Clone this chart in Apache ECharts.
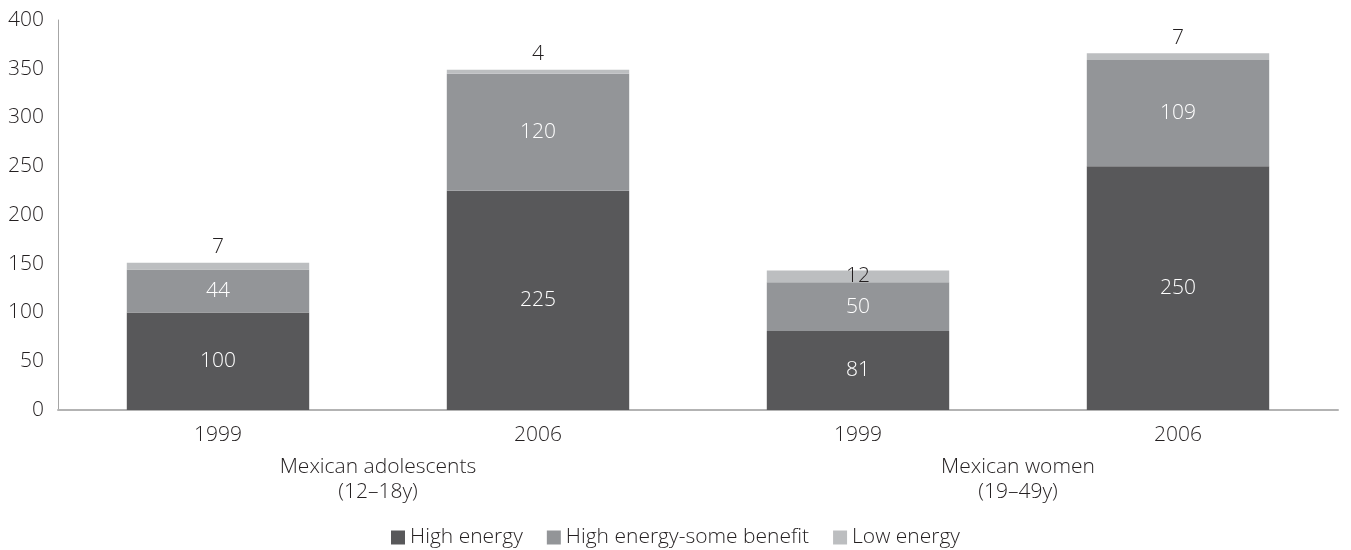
<!DOCTYPE html>
<html>
<head>
<meta charset="utf-8">
<script src="https://cdn.jsdelivr.net/npm/echarts@6/dist/echarts.min.js"></script>
<style>
  html, body { margin: 0; padding: 0; background: #fff; }
  #chart { width: 1351px; height: 550px; }
</style>
</head>
<body>
<div id="chart"></div>
<script>
// Survey years, grouped by population
const years = ['1999', '2006', '1999', '2006'];
const groups = ['Mexican adolescents\n(12\u201318y)', 'Mexican women\n(19\u201349y)'];

// Energy contribution by beverage class
const highEnergy = [100, 225, 81, 250];
const highEnergySomeBenefit = [44, 120, 50, 109];
const lowEnergy = [7, 4, 12, 7];

const yTicks = { min: 0, max: 400, interval: 50 };

const FONT = '"Open Sans"';
const FS = 21;
const colors = ['#58585a', '#939598', '#bcbec0'];

const chart = echarts.init(document.getElementById('chart'), null, { renderer: 'canvas' });

function barSeries(name, data, color, labelColor, position) {
  return {
    name: name,
    type: 'bar',
    stack: 'total',
    barWidth: '57%',
    data: data,
    itemStyle: { color: color },
    label: {
      show: true,
      position: position,
      color: labelColor,
      fontFamily: FONT,
      fontWeight: 300,
      fontSize: FS,
      distance: 5
    },
    emphasis: { disabled: true }
  };
}

// Small top band: its value sits above the bar, except where the band is tall enough
const lowData = lowEnergy.map(function (v) {
  return v >= 10 ? { value: v, label: { position: 'inside', color: '#231f20' } } : v;
});

chart.setOption({
  animation: false,
  backgroundColor: '#fff',
  textStyle: { fontFamily: FONT },
  grid: { left: 58, right: 13, top: 20, bottom: 140, containLabel: false },
  legend: {
    bottom: -3,
    left: 'center',
    itemWidth: 14,
    itemHeight: 14,
    itemGap: 24,
    icon: 'rect',
    textStyle: { fontFamily: FONT, fontWeight: 300, fontSize: FS, color: '#231f20' },
    data: ['High energy', 'High energy-some benefit', 'Low energy']
  },
  xAxis: [
    {
      type: 'category',
      data: years,
      axisLine: { lineStyle: { color: '#b3b3b3', width: 2 } },
      axisTick: { show: false },
      axisLabel: { color: '#231f20', fontFamily: FONT, fontWeight: 300, fontSize: FS, margin: 15 }
    },
    {
      type: 'category',
      data: groups,
      position: 'bottom',
      offset: 45,
      axisLine: { show: false },
      axisTick: { show: false },
      axisLabel: { color: '#231f20', fontFamily: FONT, fontWeight: 300, fontSize: FS, lineHeight: 25, margin: 0 }
    }
  ],
  yAxis: {
    type: 'value',
    min: yTicks.min,
    max: yTicks.max,
    interval: yTicks.interval,
    axisLine: { show: true, lineStyle: { color: '#a6a6a6', width: 1 } },
    axisTick: { show: false },
    splitLine: { show: false },
    axisLabel: { color: '#231f20', fontFamily: FONT, fontWeight: 300, fontSize: FS, margin: 14 }
  },
  series: [
    barSeries('High energy', highEnergy, colors[0], '#ffffff', 'inside'),
    barSeries('High energy-some benefit', highEnergySomeBenefit, colors[1], '#ffffff', 'inside'),
    barSeries('Low energy', lowData, colors[2], '#231f20', 'top')
  ]
});
</script>
</body>
</html>
